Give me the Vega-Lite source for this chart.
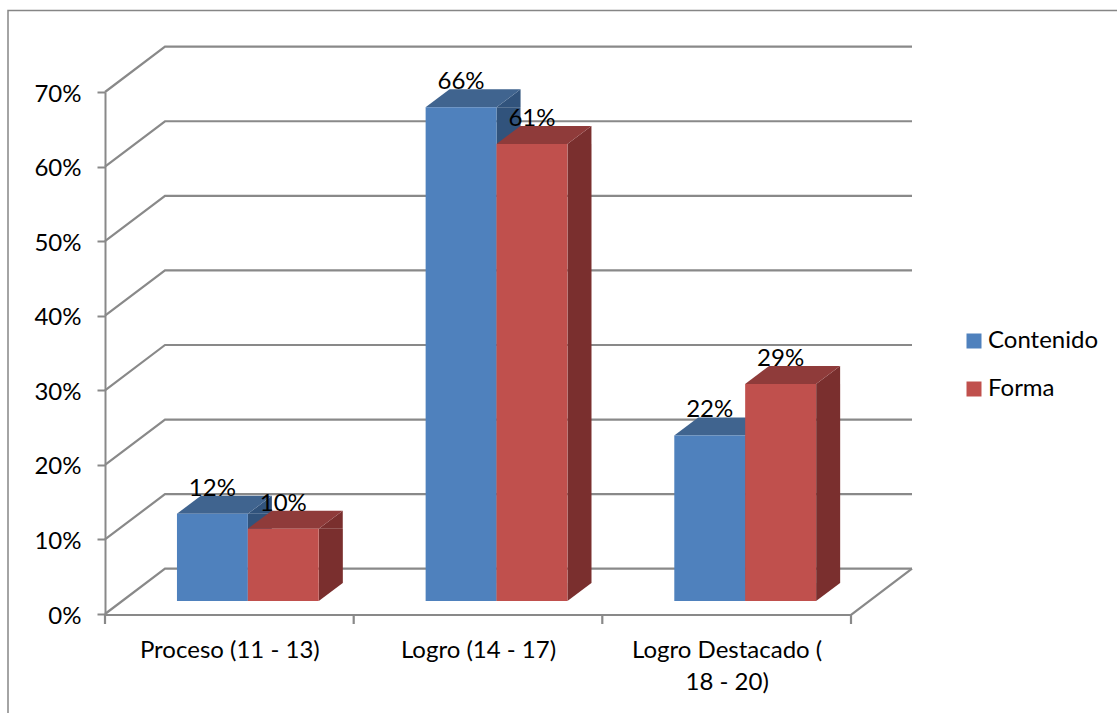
{
"$schema":"https://vega.github.io/schema/vega-lite/v6.json",
"width":746,"height":522,
"autosize":{"type":"none"},
"padding":{"left":105,"top":92,"right":266,"bottom":99},
"background":"white",
"config":{"view":{"stroke":null},"font":"Lato"},
"datasets":{
"barras":[
{"categoria":"Proceso (11 - 13)","serie":"Contenido","valor":0.117},
{"categoria":"Proceso (11 - 13)","serie":"Forma","valor":0.097},
{"categoria":"Logro (14 - 17)","serie":"Contenido","valor":0.662},
{"categoria":"Logro (14 - 17)","serie":"Forma","valor":0.613},
{"categoria":"Logro Destacado ( 18 - 20)","serie":"Contenido","valor":0.222},
{"categoria":"Logro Destacado ( 18 - 20)","serie":"Forma","valor":0.291}],
"niveles":[{"nivel":0},{"nivel":0.1},{"nivel":0.2},{"nivel":0.3},{"nivel":0.4},{"nivel":0.5},{"nivel":0.6},{"nivel":0.7}],
"marco":[{"elemento":"marco"}]
},
"resolve":{"scale":{"fill":"independent"},"legend":{"fill":"independent"}},
"layer":[
{"data":{"name":"marco"},
 "mark":{"type":"point","shape":"M-470,360 L-470,-342.5 L640,-342.5","size":4,"filled":false,"stroke":"#868686","strokeWidth":1.5,"opacity":1},
 "encoding":{}},
{"data":{"name":"niveles"},
 "mark":{"type":"point","shape":"M-373,0 L-313,-45.3 L434,-45.3","size":4,"filled":false,"stroke":"#898989","strokeWidth":2.2,"opacity":1},
 "encoding":{"y":{"field":"nivel","type":"quantitative","scale":{"domain":[0,0.7],"nice":false},
   "axis":{"title":null,"format":".0%","values":[0,0.1,0.2,0.3,0.4,0.5,0.6,0.7],"grid":false,"tickSize":8,"tickWidth":2,"tickColor":"#898989","domainColor":"#898989","domainWidth":2,"labelFontSize":24,"labelColor":"#000000","labelPadding":16,"labelOffset":2,"labelFont":"Lato"}}}},
{"data":{"name":"marco"},
 "mark":{"type":"point","shape":"M-373,1 L373,1 L434,-45.3 M-373,1 L-373,10 M-124.3,1 L-124.3,10 M124.3,1 L124.3,10 M373,1 L373,10","size":4,"filled":false,"stroke":"#898989","strokeWidth":2.2,"opacity":1},
 "encoding":{"y":{"datum":0}}},
{"data":{"name":"barras"},
 "transform":[{"filter":"datum.serie == 'Contenido'"}],
 "mark":{"type":"rule","strokeWidth":24,"stroke":"#31537c","xOffset":12,"yOffset":-13,"y2Offset":-31},
 "encoding":{
  "x":{"field":"categoria","type":"nominal","sort":null,"scale":{"range":[18.5,764.5],"paddingInner":0.43,"paddingOuter":0.215},
   "axis":{"title":null,"labelAngle":0,"domain":false,"ticks":false,"tickOffset":-18.5,"tickSize":10,"labelFontSize":24,"labelColor":"#000000","labelPadding":24,"labelLineHeight":32,"labelFont":"Lato","labelLimit":300,
    "labelExpr":"datum.label == 'Logro Destacado ( 18 - 20)' ? ['Logro Destacado (','18 - 20)'] : datum.label"}},
  "y":{"field":"valor","type":"quantitative"},
  "y2":{"datum":0}}},
{"data":{"name":"barras"},
 "transform":[{"filter":"datum.serie == 'Forma'"}],
 "mark":{"type":"rule","strokeWidth":24,"stroke":"#7a2f2e","xOffset":83,"yOffset":-13,"y2Offset":-31},
 "encoding":{
  "x":{"field":"categoria","type":"nominal","sort":null},
  "y":{"field":"valor","type":"quantitative"},
  "y2":{"datum":0}}},
{"data":{"name":"barras"},
 "mark":{"type":"point","shape":"M35.5,0 L59.5,-18 L59.5,0 Z","size":4,"filled":true,"opacity":1,"yOffset":-13},
 "encoding":{
  "x":{"field":"categoria","type":"nominal","sort":null},
  "xOffset":{"field":"serie","type":"nominal","sort":["Contenido","Forma"],"scale":{"paddingInner":0,"paddingOuter":0}},
  "y":{"field":"valor","type":"quantitative"},
  "fill":{"field":"serie","type":"nominal","scale":{"domain":["Contenido","Forma"],"range":["#31537c","#7a2f2e"]},"legend":null}}},
{"data":{"name":"barras"},
 "mark":{"type":"point","shape":"M35.5,-18 L59.5,-18 L35.5,0 Z","size":4,"filled":true,"opacity":1,"yOffset":-13},
 "encoding":{
  "x":{"field":"categoria","type":"nominal","sort":null},
  "xOffset":{"field":"serie","type":"nominal","sort":["Contenido","Forma"]},
  "y":{"datum":0},
  "fill":{"field":"serie","type":"nominal","scale":{"domain":["Contenido","Forma"],"range":["#31537c","#7a2f2e"]},"legend":null}}},
{"data":{"name":"barras"},
 "mark":{"type":"point","shape":"M-35.5,0 L-11.5,-18 L59.5,-18 L35.5,0 Z","size":4,"filled":true,"opacity":1,"yOffset":-13},
 "encoding":{
  "x":{"field":"categoria","type":"nominal","sort":null},
  "xOffset":{"field":"serie","type":"nominal","sort":["Contenido","Forma"]},
  "y":{"field":"valor","type":"quantitative"},
  "fill":{"field":"serie","type":"nominal","scale":{"domain":["Contenido","Forma"],"range":["#40648f","#8f3b3a"]},"legend":null}}},
{"data":{"name":"barras"},
 "mark":{"type":"bar","yOffset":-13,"y2Offset":-13},
 "encoding":{
  "x":{"field":"categoria","type":"nominal","sort":null},
  "xOffset":{"field":"serie","type":"nominal","sort":["Contenido","Forma"]},
  "y":{"field":"valor","type":"quantitative","stack":null},
  "y2":{"datum":0},
  "color":{"field":"serie","type":"nominal","scale":{"domain":["Contenido","Forma"],"range":["#4f81bd","#c0504d"]},
   "legend":{"title":null,"orient":"none","legendX":857,"legendY":237,"symbolType":"square","symbolSize":225,"symbolStrokeWidth":0,"symbolOpacity":1,"labelFontSize":24,"labelColor":"#000000","labelFont":"Lato","rowPadding":24,"labelOffset":2}}}},
{"data":{"name":"barras"},
 "mark":{"type":"text","fontSize":24,"color":"#000000","font":"Lato","baseline":"alphabetic","yOffset":-31},
 "encoding":{
  "x":{"field":"categoria","type":"nominal","sort":null},
  "xOffset":{"field":"serie","type":"nominal","sort":["Contenido","Forma"]},
  "y":{"field":"valor","type":"quantitative"},
  "text":{"field":"valor","type":"quantitative","format":".0%"}}}
]
}
